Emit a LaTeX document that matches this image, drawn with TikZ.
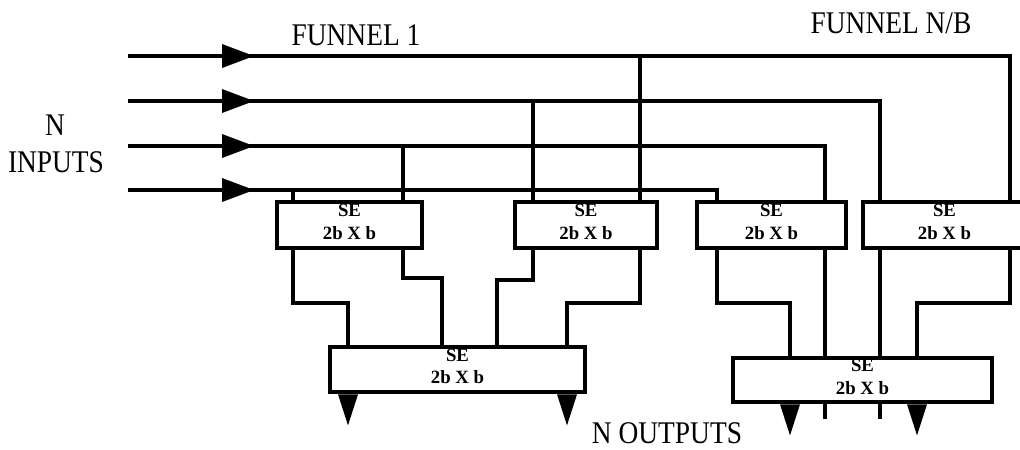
\documentclass[tikz,border=0pt]{standalone}
\usepackage{graphicx}
\usepackage{fontspec}
\setmainfont{Liberation Serif}
\newcommand\tall[1]{\scalebox{1}[1.15]{#1}}

\begin{document}
\begin{tikzpicture}[x=0.015cm, y=-0.015cm, line width=2pt,
    sebox/.style={draw, fill=white, inner sep=0pt, align=center, text depth=0.1cm,
        font=\bfseries\fontsize{8}{9.5}\selectfont},
    lbl/.style={font=\fontsize{11.7}{14}\selectfont, anchor=base, inner sep=0pt}]
    \useasboundingbox (0,0) rectangle (1020,449);
    % input rows and the taps on them
    \coordinate (in1) at (128,56);
    \coordinate (in2) at (128,101);
    \coordinate (in3) at (128,146);
    \coordinate (in4) at (128,190);
    \coordinate (a1) at (640,56);  \coordinate (a2) at (1010,56);
    \coordinate (b1) at (533,101); \coordinate (b2) at (880,101);
    \coordinate (c1) at (403,146); \coordinate (c2) at (825,146);
    \coordinate (d1) at (293,190); \coordinate (d2) at (717,190);
    % bends between the two stages
    \coordinate (k1) at (348,303); \coordinate (k2) at (442,278);
    \coordinate (k3) at (497,280); \coordinate (k4) at (567,303);
    \coordinate (k5) at (790,303); \coordinate (k6) at (917,303);

    % switching elements
    \node[sebox, minimum width=2.175cm, minimum height=0.69cm] (se1) at (349.5,225) {SE\\2b X b};
    \node[sebox, minimum width=2.13cm, minimum height=0.69cm] (se2) at (586,225) {SE\\2b X b};
    \node[sebox, minimum width=2.235cm, minimum height=0.69cm] (se3) at (771.5,225) {SE\\2b X b};
    \node[sebox, minimum width=2.445cm, minimum height=0.69cm] (se4) at (944.5,225) {SE\\2b X b};
    \node[sebox, minimum width=3.825cm, minimum height=0.675cm] (se5) at (457.5,369.5) {SE\\2b X b};
    \node[sebox, minimum width=3.885cm, minimum height=0.66cm] (se6) at (862.5,380) {SE\\2b X b};

    % inputs
    \draw (in1) -| (se4.north -| a2);
    \draw (in2) -| (se4.north -| b2);
    \draw (in3) -| (se3.north -| c2);
    \draw (in4) -| (se3.north -| d2);
    \draw (a1) -- (se2.north -| a1);
    \draw (b1) -- (se2.north -| b1);
    \draw (c1) -- (se1.north -| c1);
    \draw (d1) -- (se1.north -| d1);
    \foreach \r in {1,...,4}
        \fill (in\r) ++(94,-12) -- ++(32,12) -- ++(-32,12) -- cycle;

    % first stage to second stage
    \draw (se1.south -| d1) |- (k1) -- (k1 |- se5.north);
    \draw (se1.south -| c1) |- (k2) -- (k2 |- se5.north);
    \draw (se2.south -| b1) |- (k3) -- (k3 |- se5.north);
    \draw (se2.south -| a1) |- (k4) -- (k4 |- se5.north);
    \draw (se3.south -| d2) |- (k5) -- (k5 |- se6.north);
    \draw (se3.south -| c2) -- (se6.north -| c2);
    \draw (se4.south -| b2) -- (se6.north -| b2);
    \draw (se4.south -| a2) |- (k6) -- (k6 |- se6.north);

    % outputs
    \foreach \p/\b in {k1/se5, k4/se5, k5/se6, k6/se6}
        \fill (\b.south -| \p) ++(-10,0) -- ++(10,31) -- ++(10,-31) -- cycle;
    \draw (se6.south -| c2) -- ++(0,15);
    \draw (se6.south -| b2) -- ++(0,15);

    % labels
    \node[lbl] (funnel1) at (356,45) {\tall{FUNNEL 1}};
    \node[lbl] (funnelnb) at (891,33) {\tall{FUNNEL N/B}};
    \node[lbl] (nlbl) at (55,135) {\tall{N}};
    \node[lbl] (inputslbl) at (56,172) {\tall{INPUTS}};
    \node[lbl] (outputslbl) at (667,443) {\tall{N OUTPUTS}};
\end{tikzpicture}
\end{document}
